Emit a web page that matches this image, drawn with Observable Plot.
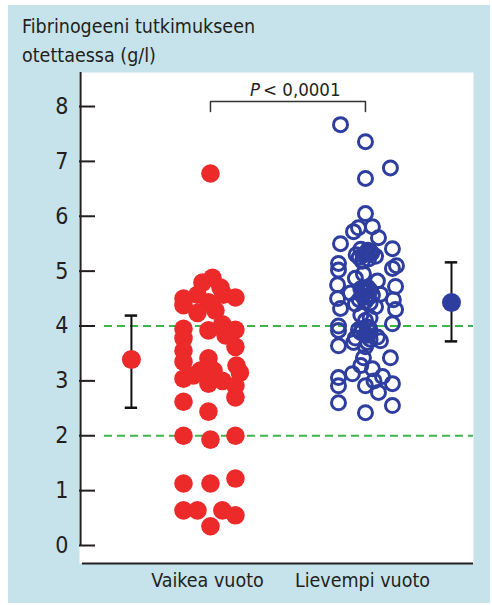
<!DOCTYPE html>
<html><head><meta charset="utf-8">
<script src="https://cdn.jsdelivr.net/npm/d3@7"></script>
<script src="https://cdn.jsdelivr.net/npm/@observablehq/plot@0.6"></script>
<style>
body{margin:0;background:#fff;}
#panel{position:absolute;left:8px;top:5px;width:482px;height:598px;background:#c6e3ec;}
#title{position:absolute;left:22px;top:12px;font-size:19.5px;line-height:29px;font-family:"Liberation Sans Narrow","DejaVu Sans Condensed",sans-serif;color:#231f20;white-space:nowrap;}
#chart{position:absolute;left:0;top:66px;}
</style></head><body>
<div id="panel"></div>
<div id="title">Fibrinogeeni tutkimukseen<br>otettaessa (g/l)</div>
<div id="chart"></div>
<script>
const FONT = '"Liberation Sans Narrow","DejaVu Sans Condensed",sans-serif';
const groups = ["Vaikea vuoto", "Lievempi vuoto"];
const groupPos = [1, 2];
const yTicks = [0, 1, 2, 3, 4, 5, 6, 7, 8];
const refLines = [2, 4];

const severeValues = [6.78,4.88,4.79,4.70,4.57,4.57,4.52,4.50,4.43,4.38,4.28,4.24,4.03,3.95,3.92,3.93,3.83,3.78,3.62,3.55,3.41,3.35,3.28,3.19,3.19,3.15,3.10,3.04,3.00,2.95,2.91,2.70,2.62,2.44,2.00,1.93,2.00,1.22,1.13,1.13,0.64,0.64,0.64,0.55,0.35];
const severeJitter = [0,0.013,-0.052,0.065,-0.084,0.084,0.161,-0.174,-0.013,-0.174,0.032,-0.084,0.077,-0.174,-0.013,0.161,0.097,-0.174,0.161,-0.174,-0.013,-0.174,0.168,-0.065,0.02,0.19,-0.11,-0.174,0.077,-0.013,0.161,0.161,-0.174,-0.013,-0.174,0,0.161,0.161,-0.174,0,-0.174,-0.084,0.077,0.161,0];

const milderValues = [7.67,7.36,6.88,6.69,6.05,5.81,5.79,5.72,5.61,5.50,5.41,5.40,5.36,5.34,5.32,5.30,5.27,5.25,5.22,5.18,5.14,5.10,5.02,5.05,4.95,4.87,4.82,4.75,4.72,4.68,4.66,4.65,4.62,4.60,4.58,4.57,4.55,4.52,4.50,4.48,4.48,4.45,4.42,4.40,4.35,4.32,4.30,4.20,4.15,4.10,4.04,4.00,3.98,3.95,3.92,3.90,3.88,3.85,3.80,3.78,3.76,3.73,3.70,3.70,3.64,3.62,3.42,3.42,3.28,3.22,3.13,3.06,3.08,3.00,2.95,2.91,2.91,2.79,2.60,2.55,2.42,5.38,5.29,5.33,4.70,4.63,4.54,3.96,3.83,3.93];
const milderJitter = [-0.161,0,0.161,0,0,0.045,-0.045,-0.077,0.084,-0.161,0.174,-0.03,0.03,0.01,0,-0.06,0.065,-0.04,0.02,-0.02,-0.174,0.2,-0.174,0.174,-0.013,-0.065,0.077,-0.18,0.194,-0.03,-0.01,0.03,0,-0.097,0.097,0.045,-0.02,0.02,-0.18,0.18,-0.04,0,0.03,-0.065,0.065,-0.161,0.194,-0.03,0.03,0,0.174,-0.174,0.01,-0.02,-0.174,0.03,-0.03,0,0.077,-0.065,0.03,0.097,-0.077,0.013,-0.174,0,-0.013,0.161,-0.03,0.045,-0.084,-0.174,0.11,0.055,0.174,-0.174,0,0.084,-0.174,0.174,0,0.015,-0.015,0.04,0.015,-0.015,0.01,0.025,0.015,-0.045];

const meanPos = [0.49, 2.555];
const meanValues = [3.39, 4.43];
const meanLow = [2.51, 3.72];
const meanHigh = [4.19, 5.16];
const colors = ["#ec2a2a", "#2e3e9f"];

const bracketTop = 8.09, bracketBottom = 7.91;
const pText = ["P", "< 0,0001"];
const pX = 1.32, pY = 8.2;

const xDomain = [0.155, 2.697];
const yDomain = [-0.328, 8.62];

const severe = severeValues.map((v, i) => ({x: groupPos[0] + severeJitter[i], y: v}));
const milder = milderValues.map((v, i) => ({x: groupPos[1] + milderJitter[i], y: v}));
const means = meanValues.map((v, i) => ({x: meanPos[i], y: v, lo: meanLow[i], hi: meanHigh[i], c: colors[i]}));
const bracket = [
  {x: groupPos[0], y: bracketBottom}, {x: groupPos[0], y: bracketTop},
  {x: groupPos[1], y: bracketTop}, {x: groupPos[1], y: bracketBottom}
];
const capHalf = 0.04;
const ink = "#231f20";

const chart = Plot.plot({
  width: 492, height: 539,
  marginLeft: 79, marginRight: 19, marginTop: 6, marginBottom: 42,
  style: {background: "transparent", fontFamily: FONT, color: ink},
  x: {domain: xDomain},
  y: {domain: yDomain},
  marks: [
    Plot.frame({fill: "white", stroke: "none"}),
    Plot.ruleY(refLines, {y: d => d, x1: 0.316, x2: xDomain[1], stroke: "#3db54a", strokeWidth: 2, strokeDasharray: "8,5"}),
    Plot.ruleX([0.162], {y1: 0, y2: yDomain[1], stroke: ink, strokeWidth: 2}),
    Plot.tickY(yTicks, {y: d => d, insetRight: 394 - 16, stroke: ink, strokeWidth: 2}),
    Plot.ruleY([yDomain[0]], {x1: 0.174, x2: xDomain[1], stroke: ink, strokeWidth: 2}),
    Plot.axisY(yTicks, {tickSize: 0, tickPadding: 11, fontSize: 23, label: null, fill: ink, tickFormat: d3.format("d")}),
    Plot.axisX(groupPos, {tickSize: 0, tickPadding: 10, fontSize: 19.5, label: null, fill: ink, dx: -3, tickFormat: d => groups[groupPos.indexOf(d)]}),
    Plot.line(bracket, {x: "x", y: "y", stroke: "#333", strokeWidth: 1.5}),
    Plot.text([pText[0]], {x: pX, y: pY, text: d => d, textAnchor: "end", lineAnchor: "bottom", fontStyle: "italic", fontSize: 18.5, fill: ink}),
    Plot.text([pText[1]], {x: pX, y: pY, text: d => d, textAnchor: "start", lineAnchor: "bottom", dx: 3, fontSize: 18.5, fill: ink}),
    Plot.dot(severe, {x: "x", y: "y", r: 9.3, fill: colors[0]}),
    Plot.dot(milder, {x: "x", y: "y", r: 7, fill: "none", stroke: colors[1], strokeWidth: 3}),
    Plot.ruleX(means, {x: "x", y1: "lo", y2: "hi", stroke: "#111", strokeWidth: 2}),
    Plot.ruleY(means, {y: "lo", x1: d => d.x - capHalf, x2: d => d.x + capHalf, stroke: "#111", strokeWidth: 2.5}),
    Plot.ruleY(means, {y: "hi", x1: d => d.x - capHalf, x2: d => d.x + capHalf, stroke: "#111", strokeWidth: 2.5}),
    Plot.dot(means, {x: "x", y: "y", r: 9.5, fill: "c"})
  ]
});
document.getElementById("chart").appendChild(chart);
</script>
</body></html>
